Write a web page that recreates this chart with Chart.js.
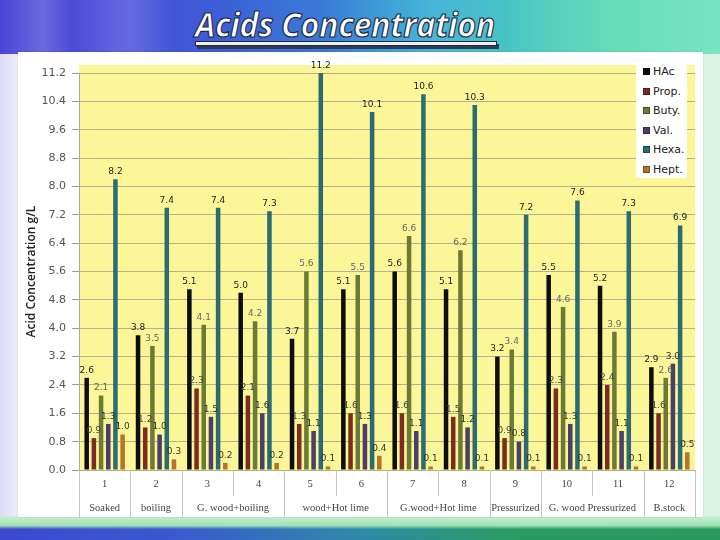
<!DOCTYPE html>
<html>
<head>
<meta charset="utf-8">
<script src="https://cdn.jsdelivr.net/npm/chart.js@4.4.1/dist/chart.umd.min.js"></script>
<style>
  html, body { margin: 0; padding: 0; width: 720px; height: 540px; overflow: hidden; }
  body { position: relative; background: linear-gradient(90deg, #dcdaf8 0%, #f2f2fc 3%, #f7f8fc 30%, #f3fbf6 70%, #d8f4e4 100%); font-family: "DejaVu Sans", sans-serif; }
  #header { position: absolute; left: 0; top: 0; width: 720px; height: 54px;
    background:
      linear-gradient(90deg, rgba(255,255,255,0) 0%, rgba(255,255,255,0.18) 6%, rgba(255,255,255,0) 10%, rgba(255,255,255,0.15) 18%, rgba(255,255,255,0) 24%, rgba(255,255,255,0.12) 60%, rgba(255,255,255,0) 70%),
      linear-gradient(90deg, #4a44d6 0%, #4b4fd9 15%, #3a5ad6 30%, #2a72d4 45%, #2aa6d2 58%, #4cc8c4 72%, #66dcb8 85%, #78e4c4 100%); }
  #bottom { position: absolute; left: 0; top: 516px; width: 720px; height: 24px;
    background: linear-gradient(180deg, rgba(200,240,210,1) 0%, rgba(160,225,180,1) 40%, rgba(0,0,0,0) 55%),
      linear-gradient(90deg, #3b48d0 0%, #3a5ad0 25%, #2e8aa8 50%, #2a9a66 70%, #2a9a5a 100%); }
  #panel { position: absolute; left: 18px; top: 52px; width: 685px; height: 465px; background: #ffffff; box-shadow: 0 0 2px rgba(0,0,0,0.15); }
  #title { position: absolute; left: 195px; top: 1px; white-space: nowrap; font-family: "Open Sans", sans-serif; font-style: italic; font-weight: 700; font-size: 34px; color: #ffffff;
    -webkit-text-stroke: 1.2px #1e2a44; transform-origin: 0 0; letter-spacing: -0.5px; }
  #uline { position: absolute; left: 195px; top: 41px; width: 300px; height: 3px; background: #f0f0f0; border: 1px solid #1e2a44; box-shadow: 2px 3px 0 #2f3a55; }
  #c { position: absolute; left: 0; top: 0; }
  #legend { position: absolute; left: 636px; top: 60px; width: 51px; height: 118px; background: #ffffff; }
  .li { position: absolute; left: 7px; font-size: 11px; color: #222; line-height: 12px; white-space: nowrap; }
  .sw { display: inline-block; width: 7px; height: 7px; margin-right: 3px; vertical-align: 0px; box-sizing: border-box; border: 1px solid rgba(0,0,0,0.35); }
</style>
</head>
<body>
<div id="header"></div>
<div id="bottom"></div>
<div id="panel"></div>
<div id="title">Acids Concentration</div>
<div id="uline"></div>
<canvas id="c" width="720" height="540"></canvas>
<div id="legend"></div>
<script>
// ---- data ----
const categories = ["1","2","3","4","5","6","7","8","9","10","11","12"];
const groupLabels = ["Soaked","boiling","G. wood+boiling","wood+Hot lime","G.wood+Hot lime","Pressurized","G. wood Pressurized","B.stock"];
const groupSpans = [1,1,2,2,2,1,2,1];
const seriesNames = ["HAc","Prop.","Buty.","Val.","Hexa.","Hept."];
const hac  = [2.6, 3.8, 5.1, 5.0, 3.7, 5.1, 5.6, 5.1, 3.2, 5.5, 5.2, 2.9];
const prop = [0.9, 1.2, 2.3, 2.1, 1.3, 1.6, 1.6, 1.5, 0.9, 2.3, 2.4, 1.6];
const buty = [2.1, 3.5, 4.1, 4.2, 5.6, 5.5, 6.6, 6.2, 3.4, 4.6, 3.9, 2.6];
const val  = [1.3, 1.0, 1.5, 1.6, 1.1, 1.3, 1.1, 1.2, 0.8, 1.3, 1.1, 3.0];
const hexa = [8.2, 7.4, 7.4, 7.3, 11.2, 10.1, 10.6, 10.3, 7.2, 7.6, 7.3, 6.9];
const hept = [1.0, 0.3, 0.2, 0.2, 0.1, 0.4, 0.1, 0.1, 0.1, 0.1, 0.1, 0.5];
const yTickMax = 11.2;
const yTickStep = 0.8;

const seriesValues = [hac, prop, buty, val, hexa, hept];
const colors = ["#0e0e0e", "#7e2b1f", "#6b7b35", "#4b3d6c", "#2b6c72", "#b8722c"];
const labelColors = ["#222", "#444", "#666", "#333", "#222", "#333"];

// title fit
(function(){
  const t = document.getElementById('title');
  const w = t.getBoundingClientRect().width;
  t.style.transform = 'scaleX(' + (300 / w) + ')';
})();

// legend
(function(){
  const lg = document.getElementById('legend');
  seriesNames.forEach((n, i) => {
    const d = document.createElement('div');
    d.className = 'li';
    d.style.top = (6 + i * 19.6) + 'px';
    d.innerHTML = '<span class="sw" style="background:' + colors[i] + '"></span>' + n;
    lg.appendChild(d);
  });
})();

const plotBg = {
  id: 'plotBg',
  beforeDraw(chart) {
    const a = chart.chartArea, ctx = chart.ctx;
    ctx.save();
    ctx.fillStyle = '#fbf799';
    ctx.fillRect(a.left, a.top - 8, a.right - a.left, a.bottom - a.top + 8);
    ctx.restore();
  }
};

const valueLabels = {
  id: 'valueLabels',
  afterDatasetsDraw(chart) {
    const ctx = chart.ctx;
    ctx.save();
    ctx.font = '9px "DejaVu Sans", sans-serif';
    ctx.textAlign = 'center';
    ctx.textBaseline = 'bottom';
    chart.data.datasets.forEach((ds, di) => {
      const meta = chart.getDatasetMeta(di);
      ctx.fillStyle = labelColors[di];
      meta.data.forEach((el, i) => {
        ctx.fillText(ds.data[i].toFixed(1), el.x, el.y - 3);
      });
    });
    ctx.restore();
  }
};

const groupAxis = {
  id: 'groupAxis',
  afterDraw(chart) {
    const ctx = chart.ctx, xs = chart.scales.x, a = chart.chartArea;
    const w = (a.right - a.left) / categories.length;
    ctx.save();
    ctx.strokeStyle = '#c4c4c4';
    ctx.lineWidth = 1;
    ctx.fillStyle = '#444';
    ctx.font = '10.5px "Liberation Serif", serif';
    ctx.textAlign = 'center';
    ctx.textBaseline = 'middle';
    categories.forEach((c, i) => {
      const x = xs.getPixelForValue(i);
      ctx.fillText(c, x, a.bottom + 14);
    });
    let idx = 0;
    const boundaries = new Set([0]);
    groupSpans.forEach(s => { idx += s; boundaries.add(idx); });
    for (let i = 0; i <= categories.length; i++) {
      const x = Math.round(xs.getPixelForValue(i) - w / 2) + 0.5;
      const full = boundaries.has(i);
      ctx.beginPath();
      ctx.moveTo(x, a.bottom);
      ctx.lineTo(x, a.bottom + (full ? 48 : 26));
      ctx.stroke();
    }
    idx = 0;
    groupLabels.forEach((g, gi) => {
      const s = groupSpans[gi];
      const x0 = xs.getPixelForValue(idx) - w / 2;
      const x1 = xs.getPixelForValue(idx + s - 1) + w / 2;
      ctx.fillText(g, (x0 + x1) / 2, a.bottom + 38);
      idx += s;
    });
    ctx.restore();
  }
};

new Chart(document.getElementById('c'), {
  type: 'bar',
  data: {
    labels: categories,
    datasets: seriesNames.map((n, i) => ({
      label: n,
      data: seriesValues[i],
      backgroundColor: colors[i],
      borderWidth: 0,
      categoryPercentage: 0.84,
      barPercentage: 0.63
    }))
  },
  options: {
    responsive: false,
    animation: false,
    layout: { padding: { top: 73, bottom: 62, left: 18, right: 25 } },
    plugins: { legend: { display: false }, tooltip: { enabled: false } },
    scales: {
      x: {
        ticks: { display: false },
        grid: { display: false },
        border: { display: false }
      },
      y: {
        min: 0, max: yTickMax,
        ticks: { stepSize: yTickStep, padding: 6, color: '#555', font: { family: '"DejaVu Sans", sans-serif', size: 11 },
                 callback: v => Number(v).toFixed(1) },
        grid: { color: '#b4b28e', tickLength: 7, tickColor: '#9a9a9a' },
        border: { color: '#a8a8a8' },
        title: { display: true, text: 'Acid Concentration g/L', color: '#222', padding: { top: 6, bottom: 0 },
                 font: { family: '"Open Sans", sans-serif', size: 12, weight: '600' } },
        afterFit: s => { s.width = 61; }
      }
    }
  },
  plugins: [plotBg, valueLabels, groupAxis]
});
</script>
</body>
</html>
